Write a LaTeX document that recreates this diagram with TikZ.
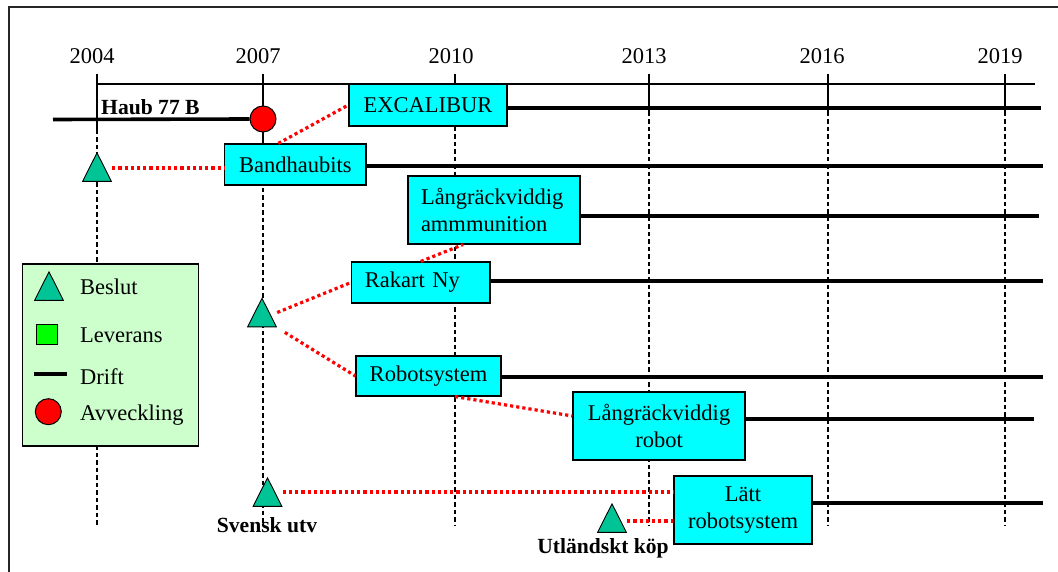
\documentclass[tikz,border=0pt]{standalone}
\usepackage{fontspec}
\setmainfont{Liberation Serif}
\definecolor{boxcyan}{HTML}{00FFFF}
\definecolor{legendgreen}{HTML}{CCFFCC}
\definecolor{sqgreen}{HTML}{00FF00}
\definecolor{trigreen}{HTML}{00C495}
\newcommand\dtxt{\fontsize{22.5}{26.5}\selectfont}
\newcommand\dbtxt{\fontsize{21.6}{26}\selectfont\bfseries}
\begin{document}
\begin{tikzpicture}[x=1pt,y=-1pt,
  box/.style={draw=black, line width=1.2pt, fill=boxcyan, inner sep=0pt, font=\dtxt},
  drift/.style={line width=3.6pt},
  reddot/.style={draw=red, line width=3.2pt, dash pattern=on 3.2pt off 3pt},
  yearsolid/.style={line width=1.3pt},
  yeardash/.style={line width=1.3pt, dash pattern=on 4.5pt off 3pt},
  tri/.style={rectangle, minimum width=30, minimum height=30, inner sep=0pt,
    path picture={\filldraw[fill=trigreen, draw=black, line width=0.9pt]
      ([shift={(0.6pt,0.6pt)}]path picture bounding box.south west) --
      ([shift={(-0.6pt,0.6pt)}]path picture bounding box.south east) --
      ([yshift=-0.8pt]path picture bounding box.north) -- cycle;}},
  circ/.style={circle, draw=black, line width=1pt, fill=red, minimum size=26, inner sep=0pt},
  lbl/.style={font=\dtxt, inner sep=0pt},
  blbl/.style={font=\dbtxt, inner sep=0pt},
]
\useasboundingbox (0,0) rectangle (1058,572);
% frame
\draw[line width=1.5pt, draw=black!85] (9,572) -- (9,7) -- (1058,7);
% axis
\draw[line width=1.3pt] (97,84) -- (1035,84);
% year lines
\foreach \x/\s in {97/130, 263/143, 455/112, 649/112, 828/112, 1005/112} {
  \draw[yearsolid] (\x,74) -- (\x,\s);
  \draw[yeardash] (\x,\s) -- (\x,525);
}
% year labels
\node[lbl] (y2004) at (92,56) {2004};
\node[lbl] (y2007) at (258,56) {2007};
\node[lbl] (y2010) at (451,56) {2010};
\node[lbl] (y2013) at (644,56) {2013};
\node[lbl] (y2016) at (822,56) {2016};
\node[lbl] (y2019) at (1000,56) {2019};

% Haub 77 B
\node[circ] (hcirc) at (263,119) {};
\node[blbl, anchor=west] (haub) at (101,107) {Haub 77 B};
\coordinate (haubS) at (53,119.5);
\draw[drift] (haubS) -- (hcirc.west);

% boxes
\node[box, minimum width=158, minimum height=42, align=center] (exc) at (428,105) {EXCALIBUR};
\node[box, minimum width=141.5, minimum height=41, align=center] (band) at (295.3,164.5) {Bandhaubits};
\node[box, minimum height=68, text width=146, inner xsep=13, align=left] (amm) at (494,210) {Långräckviddig\\ammmunition};
\node[box, minimum height=41, text width=112, inner xsep=13.2, align=left] (rak) at (420.8,282.5) {Rakart Ny};
\node[box, minimum width=145, minimum height=40, align=center] (robot) at (428.5,376) {Robotsystem};
\node[box, minimum height=68, text width=152, inner xsep=10, align=center] (lrr) at (659,426) {Långräckviddig\\robot};
\node[box, minimum height=68, text width=118, inner xsep=10, align=center] (latt) at (743,510) {Lätt\\robotsystem};

% drift lines
\coordinate (excE) at (1041,108);
\coordinate (bandE) at (1043,166);
\coordinate (ammE) at (1039,216);
\coordinate (rakE) at (1043,281);
\coordinate (robotE) at (1043,377);
\coordinate (lrrE) at (1034,419);
\coordinate (lattE) at (1043,503);
\draw[drift] (exc.east |- excE) -- (excE);
\draw[drift] (band.east |- bandE) -- (bandE);
\draw[drift] (amm.east |- ammE) -- (ammE);
\draw[drift] (rak.east |- rakE) -- (rakE);
\draw[drift] (robot.east |- robotE) -- (robotE);
\draw[drift] (lrr.east |- lrrE) -- (lrrE);
\draw[drift] (latt.east |- lattE) -- (lattE);

% triangles
\node[tri] (t2004) at (97,167) {};
\node[tri] (tmid) at (262,312.5) {};
\node[tri] (tsv) at (267.5,492) {};
\node[tri] (tutl) at (612,518) {};
\node[blbl] (svensk) at (267,525) {Svensk utv};
\node[blbl] (utl) at (603,548) {Utländskt köp};

% red dotted connectors
\draw[reddot] ([yshift=-1pt]t2004.east) -- ([yshift=-1pt]t2004.east -| band.west);
\draw[reddot] ([xshift=-17pt]band.north) -- (exc.west);
\draw[reddot] (tmid.east) -- (rak.west);
\draw[reddot, shorten <=9pt] (tmid.south east) -- (robot.west);
\draw[reddot] (rak.north) -- ([xshift=-31pt]amm.south);
\draw[reddot] ([xshift=26.5pt]robot.south) -- ([yshift=10pt]lrr.west);
\draw[reddot] (tsv.east) -- (tsv.east -| latt.west);
\draw[reddot] ([yshift=-3pt]tutl.east) -- ([yshift=-3pt]tutl.east -| latt.west);

% legend
\node[draw=black, line width=1.2pt, fill=legendgreen, minimum width=176, minimum height=182, inner sep=0pt] (legend) at (110.5,355) {};
\node[tri] (ltri) at (49,286) {};
\node[lbl, anchor=west] (lbeslut) at (80,287) {Beslut};
\node[draw=black, line width=1pt, fill=sqgreen, minimum width=20.5, minimum height=20, inner sep=0pt] (lsq) at (47.2,334) {};
\node[lbl, anchor=west] (llev) at (80,335) {Leverans};
\coordinate (ldA) at (34,374);
\coordinate (ldB) at (66.6,374);
\draw[drift] (ldA) -- (ldB);
\node[lbl, anchor=west] (ldrift) at (80,377) {Drift};
\node[circ] (lcirc) at (48.3,411.7) {};
\node[lbl, anchor=west] (lavv) at (80,415) {Avveckling};
\end{tikzpicture}
\end{document}
